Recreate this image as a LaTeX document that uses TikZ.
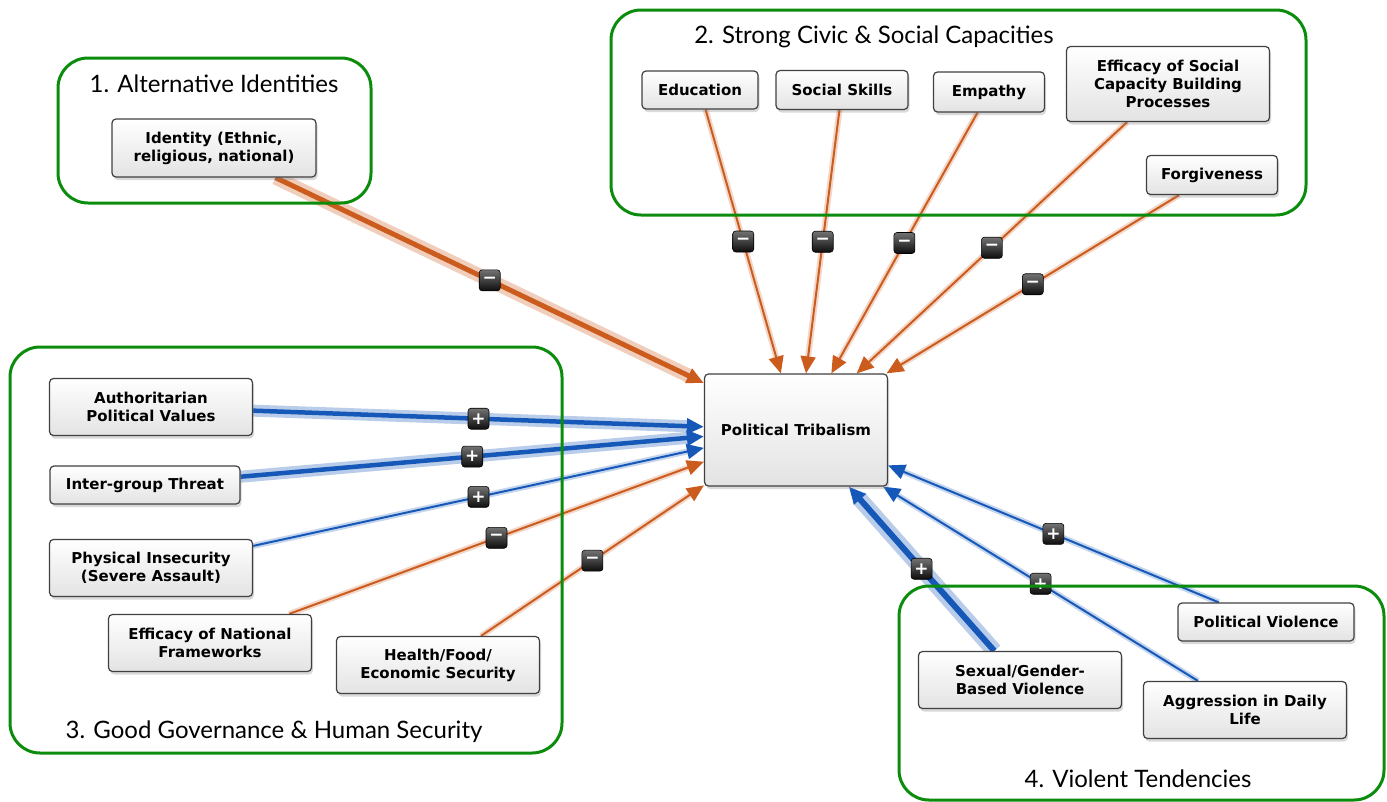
\documentclass[tikz,border=0pt]{standalone}
\usepackage{fontspec}
\setmainfont{Lato}
\newfontfamily\boxfont{DejaVu Sans}
\usetikzlibrary{arrows.meta,shadows}

\definecolor{tieorange}{RGB}{204,92,30}
\definecolor{tieblue}{RGB}{22,88,184}
\definecolor{groupgreen}{RGB}{12,140,12}

\pgfdeclarelayer{edges}
\pgfdeclarelayer{groups}
\pgfsetlayers{edges,groups,main}

\tikzset{
  factor/.style={draw=black!75, line width=1.2pt, rounded corners=4pt,
    top color=white, bottom color=black!11, inner sep=0pt, align=center,
    drop shadow={shadow xshift=1.5pt, shadow yshift=-3pt, opacity=.3},
    font=\boxfont\bfseries\fontsize{15}{18}\selectfont},
  twoline/.style={minimum width=203pt, minimum height=57pt},
  grouplabel/.style={font=\fontsize{24}{28}\selectfont, inner sep=0pt},
  group/.style={draw=groupgreen, line width=3pt, rounded corners=30pt},
  sign/.style={draw=black, line width=.6pt, rounded corners=3pt,
    top color=black!55, bottom color=black!95, text=white,
    minimum size=21pt, inner sep=0pt,
    font=\boxfont\bfseries\fontsize{17}{17}\selectfont},
  tiehead/.style={-{Triangle[length=17pt,width=15pt]}},
  negtie/.style={draw=tieorange, line width=2pt, tiehead,
    preaction={draw=tieorange, draw opacity=.25, line width=6pt, -, shorten >=15pt}},
  negthick/.style={draw=tieorange, line width=5pt, tiehead,
    preaction={draw=tieorange, draw opacity=.3, line width=14pt, -, shorten >=15pt}},
  postie/.style={draw=tieblue, line width=2pt, tiehead,
    preaction={draw=tieblue, draw opacity=.25, line width=6pt, -, shorten >=15pt}},
  posthick/.style={draw=tieblue, line width=4.5pt, tiehead,
    preaction={draw=tieblue, draw opacity=.3, line width=12pt, -, shorten >=15pt}},
  posheavy/.style={draw=tieblue, line width=6pt, tiehead,
    preaction={draw=tieblue, draw opacity=.3, line width=16pt, -, shorten >=15pt}},
}

\begin{document}
\begin{tikzpicture}[x=1pt,y=-1pt]
\useasboundingbox (0,0) rectangle (1387,801);

% factors
\node[factor, minimum width=183pt, minimum height=112pt] (tribal) at (796,430) {Political Tribalism};

\node[factor, minimum width=204pt, minimum height=58pt] (identity) at (214,148) {Identity (Ethnic,\\religious, national)};

\node[factor, minimum width=116pt, minimum height=38pt] (edu) at (700,90) {Education};
\node[factor, minimum width=132pt, minimum height=39pt] (skills) at (842,90) {Social Skills};
\node[factor, minimum width=111pt, minimum height=40pt] (empathy) at (989,92) {Empathy};
\node[factor, minimum width=203pt, minimum height=75pt] (capacity) at (1168,84) {Efficacy of Social\\Capacity Building\\Processes};
\node[factor, minimum width=131pt, minimum height=39pt] (forgive) at (1212,175) {Forgiveness};

\node[factor, twoline] (authvalues) at (151,407) {Authoritarian\\Political Values};
\node[factor, minimum width=190pt, minimum height=38pt] (threat) at (145,485) {Inter-group Threat};
\node[factor, twoline] (insecure) at (151,568) {Physical Insecurity\\(Severe Assault)};
\node[factor, twoline] (national) at (210,643) {Efficacy of National\\Frameworks};
\node[factor, twoline] (economic) at (438,665) {Health/Food/\\Economic Security};

\node[factor, minimum width=176pt, minimum height=38pt] (polviol) at (1266,622) {Political Violence};
\node[factor, twoline] (sexual) at (1020,680) {Sexual/Gender-\\Based Violence};
\node[factor, twoline] (aggress) at (1245,710) {Aggression in Daily\\Life};

% groups
\begin{pgfonlayer}{groups}
\draw[group] (58,58) rectangle (371,203);
\draw[group] (611,10) rectangle (1306,215);
\draw[group] (10,347) rectangle (562,753);
\draw[group] (899,586) rectangle (1384,800);
\end{pgfonlayer}
\node[grouplabel] (g1) at (214,84) {1. Alternative Identities};
\node[grouplabel] (g2) at (874,37) {2. Strong Civic \& Social Capacities};
\node[grouplabel] (g3) at (274,732) {3. Good Governance \& Human Security};
\node[grouplabel] (g4) at (1138,779) {4. Violent Tendencies};

% links
\begin{pgfonlayer}{edges}
\draw[negthick] (identity) -- node[sign] (s1) {−} (tribal.153);
\draw[negtie] (edu) -- node[sign] (s2) {−} (tribal.105);
\draw[negtie] (skills) -- node[sign] (s3) {−} (tribal.80);
\draw[negtie] (empathy) -- node[sign] (s4) {−} (tribal.58);
\draw[negtie] (capacity) -- node[sign] (s5) {−} (tribal.43);
\draw[negtie] (forgive) -- node[sign] (s6) {−} (tribal.32);
\draw[posthick] (authvalues) -- node[sign] (s7) {+} (tribal.178);
\draw[posthick] (threat) -- node[sign] (s8) {+} (tribal.184);
\draw[postie] (insecure) -- node[sign] (s9) {+} (tribal.191);
\draw[negtie] (national) -- node[sign] (s10) {−} (tribal.199);
\draw[negtie] (economic) -- node[sign] (s11) {−} (tribal.211);
\draw[postie] (polviol) -- node[sign] (s12) {+} (tribal.339);
\draw[posheavy] (sexual) -- node[sign] (s13) {+} (tribal.313);
\draw[postie] (aggress) -- node[sign] (s14) {+} (tribal.327);
\end{pgfonlayer}

\end{tikzpicture}
\end{document}
